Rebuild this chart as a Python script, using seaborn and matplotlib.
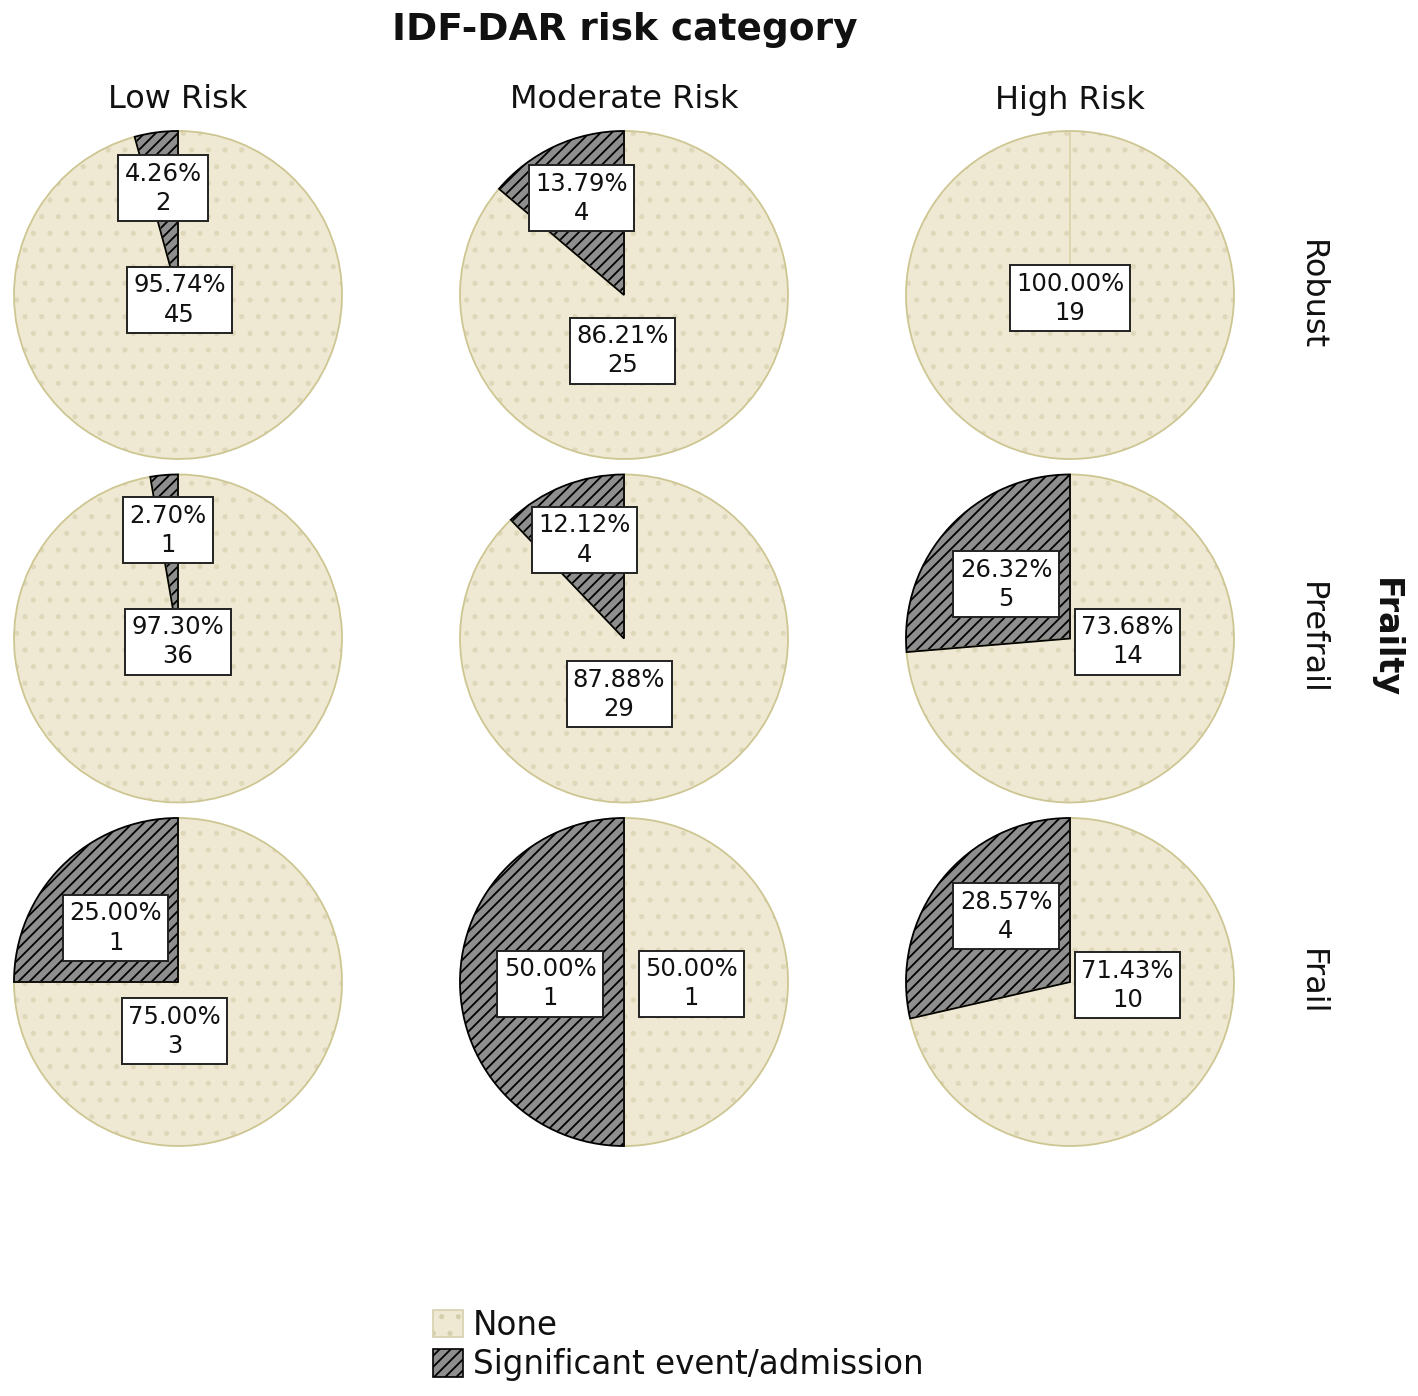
import matplotlib
matplotlib.use("Agg")
import matplotlib.pyplot as plt
from matplotlib.patches import Patch
import seaborn as sns
import pandas as pd

# ---------------- data ----------------
frailty_levels = ["Robust", "Prefrail", "Frail"]
risk_levels = ["Low Risk", "Moderate Risk", "High Risk"]
outcomes = ["None", "Significant event/admission"]

# counts per frailty row, ordered by risk column
none_counts = {
    "Robust":   [45, 25, 19],
    "Prefrail": [36, 29, 14],
    "Frail":    [3, 1, 10],
}
event_counts = {
    "Robust":   [2, 4, 0],
    "Prefrail": [1, 4, 5],
    "Frail":    [1, 1, 4],
}

rows = []
for fr in frailty_levels:
    for j, rk in enumerate(risk_levels):
        rows.append({"Frailty": fr, "Risk": rk, "Outcome": outcomes[0], "Count": none_counts[fr][j]})
        rows.append({"Frailty": fr, "Risk": rk, "Outcome": outcomes[1], "Count": event_counts[fr][j]})
df = pd.DataFrame(rows)

# ---------------- layout / style ----------------
W, H = 1418, 1396
fill_colors = {"None": "#EFE9D3", "Significant event/admission": "#8E8E8E"}
edge_colors = {"None": "#CEC692", "Significant event/admission": "#000000"}
hatch_colors = {"None": "#DED7BA", "Significant event/admission": "#000000"}
hatches = {"None": ".", "Significant event/admission": "///"}

# label box positions (in pie-radius units, relative to pie centre)
label_pos = {
    ("Robust", "Low Risk"):        {"None": (0.01, -0.03), "Significant event/admission": (-0.09, 0.65)},
    ("Robust", "Moderate Risk"):   {"None": (-0.01, -0.34), "Significant event/admission": (-0.26, 0.59)},
    ("Robust", "High Risk"):       {"None": (0.0, -0.02), "Significant event/admission": (0.0, 0.6)},
    ("Prefrail", "Low Risk"):      {"None": (0.0, -0.02), "Significant event/admission": (-0.06, 0.66)},
    ("Prefrail", "Moderate Risk"): {"None": (-0.03, -0.34), "Significant event/admission": (-0.24, 0.60)},
    ("Prefrail", "High Risk"):     {"None": (0.35, -0.02), "Significant event/admission": (-0.39, 0.33)},
    ("Frail", "Low Risk"):         {"None": (-0.02, -0.30), "Significant event/admission": (-0.38, 0.33)},
    ("Frail", "Moderate Risk"):    {"None": (0.41, -0.01), "Significant event/admission": (-0.45, -0.01)},
    ("Frail", "High Risk"):        {"None": (0.35, -0.02), "Significant event/admission": (-0.39, 0.40)},
}

sns.set_theme(style="white")
plt.rcParams["font.family"] = ["DejaVu Sans"]
plt.rcParams["hatch.linewidth"] = 1.3


def draw_pie(data, **kwargs):
    ax = plt.gca()
    d = data.set_index("Outcome").loc[outcomes]
    vals = d["Count"].tolist()
    fr = data["Frailty"].iloc[0]
    rk = data["Risk"].iloc[0]
    total = sum(vals)
    # filled + hatched layer
    wedges, _ = ax.pie(vals, startangle=90, counterclock=False, radius=1,
                       colors=[fill_colors[o] for o in outcomes],
                       wedgeprops=dict(linewidth=0))
    for w, o in zip(wedges, outcomes):
        w.set_edgecolor(hatch_colors[o])
        w.set_hatch(hatches[o])
    # outline layer
    wedges2, _ = ax.pie(vals, startangle=90, counterclock=False, radius=1,
                        wedgeprops=dict(fill=False, linewidth=1.3))
    for w, o, v in zip(wedges2, outcomes, vals):
        w.set_edgecolor(edge_colors[o] if v > 0 else edge_colors["None"])
        if v == 0:
            w.set_linewidth(0.8)
    for o, v in zip(outcomes, vals):
        if v == 0:
            continue
        x, y = label_pos[(fr, rk)][o]
        ax.text(x, y, f"{100 * v / total:.2f}%\n{v}", ha="center", va="center",
                fontsize=17.5, linespacing=1.28, color="#111111",
                bbox=dict(boxstyle="square,pad=0.26", facecolor="white",
                          edgecolor="#222222", linewidth=1.4), zorder=5)
    ax.set_xlim(-1.006, 1.006)
    ax.set_ylim(-1.006, 1.006)
    ax.set_aspect("equal")
    ax.set_axis_off()


g = sns.FacetGrid(df, row="Frailty", col="Risk", row_order=frailty_levels,
                  col_order=risk_levels, height=3.3, aspect=1, despine=False)
g.map_dataframe(draw_pie)
g.set_titles(template="", row_template="", col_template="")
g.set_axis_labels("", "")

fig = g.figure
fig.set_size_inches(W / 100, H / 100)
fig.subplots_adjust(left=13 / W, right=1235 / W, top=1 - 130 / H, bottom=1 - 1147 / H,
                    wspace=116 / 330, hspace=13.5 / 330)

for j, rk in enumerate(risk_levels):
    g.axes[0, j].text(0.5, 1 + 30 / 330, rk, transform=g.axes[0, j].transAxes,
                      ha="center", va="center", fontsize=23, color="#111111")
for i, fr in enumerate(frailty_levels):
    g.axes[i, -1].text(1 + 76 / 330, 0.5, fr, transform=g.axes[i, -1].transAxes,
                       ha="center", va="center", rotation=270, fontsize=23, color="#111111")

fig.text(625 / W, 1 - 30 / H, "IDF-DAR risk category", ha="center", va="center",
         fontsize=27, fontweight="bold", color="#111111")
fig.text(1385 / W, 1 - 638 / H, "Frailty", ha="center", va="center", rotation=270,
         fontsize=24, fontweight="bold", color="#111111")

handles = []
for o in outcomes:
    p = Patch(facecolor=fill_colors[o], edgecolor=hatch_colors[o] if o == "Significant event/admission" else "#D6CFAE",
              hatch=hatches[o], linewidth=1.2, label=o)
    handles.append(p)
leg = fig.legend(handles=handles, loc="center left", bbox_to_anchor=(433 / W, 1 - 1345 / H),
                 frameon=False, fontsize=23.5, handlelength=0.92, handleheight=0.92,
                 handletextpad=0.3, labelspacing=0.2, borderpad=0, borderaxespad=0)
for t in leg.get_texts():
    t.set_color("#111111")

fig.savefig("out.png", dpi=100, facecolor="white")
